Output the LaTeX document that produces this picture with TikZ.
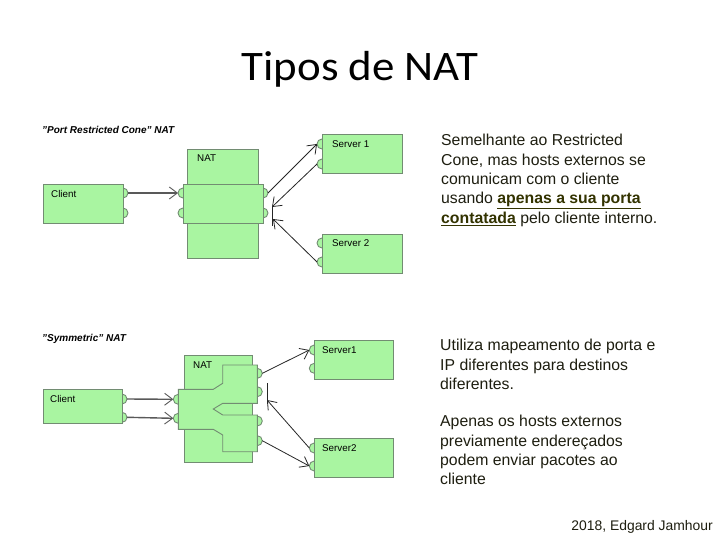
\documentclass[tikz,border=0pt]{standalone}
\usepackage{fontspec}
\setmainfont{Liberation Sans}
\newfontfamily\titlefont{Carlito}
\usetikzlibrary{arrows.meta}
\definecolor{boxfill}{HTML}{A9F5A1}
\definecolor{boxline}{HTML}{728C72}
\definecolor{txt}{HTML}{1E1E10}
\definecolor{olivetxt}{HTML}{333300}
\begin{document}
\begin{tikzpicture}[x=1pt,y=-1pt,
  box/.style={draw=boxline, fill=boxfill, line width=0.9pt, rectangle, inner sep=0pt, anchor=north west},
  lbl/.style={font=\fontsize{9.8}{11}\selectfont, anchor=west, inner sep=0pt},
  hdr/.style={font=\fontsize{10}{12}\selectfont\bfseries\itshape, anchor=base west, inner sep=0pt},
  portst/.style={draw=boxline, fill=boxfill, line width=0.9pt},
  portR/.pic={\filldraw[portst] (0,-5) arc[start angle=-90,end angle=90,radius=5];},
  portL/.pic={\filldraw[portst] (0,5) arc[start angle=90,end angle=270,radius=5];},
  conn/.style={draw=black!85, line width=0.8pt, -{Straight Barb[length=8pt,width=12pt]}},
  thickconn/.style={draw=black!65, line width=1.4pt, -{Straight Barb[length=8pt,width=12pt,line width=0.9pt]}},
  barst/.style={draw=black!85, line width=0.9pt},
  body/.style={font=\fontsize{15.8}{19}\selectfont, text=txt, anchor=base west, inner sep=0pt},
]
\useasboundingbox (0,0) rectangle (720,540);
\fill[white] (0,0) rectangle (720,540);

% title
\node[anchor=base, inner sep=0pt, font=\fontsize{42}{48}\selectfont\titlefont] (title) at (360,81) {\scalebox{1.07}[1]{Tipos de NAT}};

% ================= Port Restricted Cone =================
\node[hdr] (hdr1) at (42,134) {"Port Restricted Cone" NAT};

\coordinate (c1a) at (123,193);
\coordinate (c1b) at (123,213);
\coordinate (n1la) at (183,193);
\coordinate (n1lb) at (183,213);
\coordinate (n1ra) at (263,193);
\coordinate (n1rb) at (263,213);
\coordinate (s1a) at (322,144);
\coordinate (s1b) at (322,164);
\coordinate (s2a) at (322,243);
\coordinate (s2b) at (322,262);

\foreach \p in {c1a,c1b,n1ra,n1rb} \pic at (\p) {portR};
\foreach \p in {n1la,n1lb,s1a,s1b,s2a,s2b} \pic at (\p) {portL};

\node[box, minimum width=80pt, minimum height=39pt] (client1) at (43,184) {};
\node[lbl] (client1lbl) at (51,194) {Client};
\node[box, minimum width=71pt, minimum height=109pt] (nat1) at (187,149) {};
\node[lbl] (nat1lbl) at (197,158) {NAT};
\node[box, minimum width=80pt, minimum height=39pt] (nat1in) at (183,184) {};
\node[box, minimum width=80pt, minimum height=39pt] (srv1) at (322,134) {};
\node[lbl] (srv1lbl) at (332,144) {Server 1};
\node[box, minimum width=80pt, minimum height=39pt] (srv2) at (322,234) {};
\node[lbl] (srv2lbl) at (332,243) {Server 2};

\coordinate (blk1a) at (272,207);
\coordinate (blk1b) at (273,219);
\coordinate (bar1t) at (272,206.5);
\coordinate (bar1b) at (272,226.5);

\draw[thickconn] ([xshift=5pt]c1a) -- ([xshift=-5pt]n1la);
\draw[conn] ([xshift=5pt]n1ra) -- ([xshift=-5pt]s1a);
\draw[conn] ([xshift=-5pt]s1b) -- (blk1a);
\draw[conn] ([xshift=-5pt]s2b) -- (blk1b);
\draw[barst] (bar1t) -- (bar1b);

% ================= Symmetric =================
\node[hdr] (hdr2) at (42,341) {"Symmetric" NAT};

\coordinate (c2a) at (122,399);
\coordinate (c2b) at (122,417.3);
\coordinate (n2la) at (178.3,399.3);
\coordinate (n2lb) at (178.3,418.3);
\coordinate (n2ra) at (257.3,373.3);
\coordinate (n2rb) at (257.3,391.7);
\coordinate (n2rc) at (257.3,421);
\coordinate (n2rd) at (257.3,440.7);
\coordinate (t1a) at (314.3,350);
\coordinate (t1b) at (314.3,368.3);
\coordinate (t2a) at (314.3,448);
\coordinate (t2b) at (314.3,466);

\foreach \p in {c2a,c2b,n2ra,n2rb,n2rc,n2rd} \pic at (\p) {portR};
\foreach \p in {n2la,n2lb,t1a,t1b,t2a,t2b} \pic at (\p) {portL};

\node[box, minimum width=79pt, minimum height=34pt] (client2) at (43,389) {};
\node[lbl] (client2lbl) at (50,399) {Client};
\node[box, minimum width=68pt, minimum height=107pt] (nat2) at (184,355) {};
\node[lbl] (nat2lbl) at (193,365) {NAT};
\draw[portst] (178.3,389.3) -- (213.3,389.3) -- (222.7,383.3) -- (222.7,365) -- (257.3,365)
  -- (257.3,403.3) -- (222.7,403.3) -- (213.3,409) -- (222.7,415) -- (257.3,415)
  -- (257.3,451.7) -- (222.7,451.7) -- (222.7,435) -- (213.3,429.3) -- (178.3,429.3) -- cycle;
\node[box, minimum width=78.5pt, minimum height=38.5pt] (srv3) at (314.3,340) {};
\node[lbl] (srv3lbl) at (322,350) {Server1};
\node[box, minimum width=78.5pt, minimum height=38.5pt] (srv4) at (314.3,438.3) {};
\node[lbl] (srv4lbl) at (322,448) {Server2};

\coordinate (blk2) at (267,400);
\coordinate (bar2t) at (267,383);
\coordinate (bar2b) at (267,403.5);

\draw[thickconn] ([xshift=5pt]c2a) -- ([xshift=-5pt]n2la);
\draw[thickconn] ([xshift=5pt]c2b) -- ([xshift=-5pt]n2lb);
\draw[conn] ([xshift=5pt]n2ra) -- ([xshift=-5pt]t1a);
\draw[conn] ([xshift=-5pt]t2a) -- (blk2);
\draw[conn] ([xshift=5pt]n2rd) -- ([xshift=-5pt]t2b);
\draw[barst] (bar2t) -- (bar2b);

% ================= Text =================
\node[body] (p1a) at (441,146) {Semelhante ao Restricted};
\node[body] (p1b) at (441,165.3) {Cone, mas hosts externos se};
\node[body] (p1c) at (441,184.6) {comunicam com o cliente};
\node[body] (p1d) at (441,204) {usando \textcolor{olivetxt}{\underline{\textbf{apenas a sua porta}}}};
\node[body] (p1e) at (441,223.3) {\textcolor{olivetxt}{\underline{\textbf{contatada}}} pelo cliente interno.};

\node[body] (p2a) at (440,350.7) {Utiliza mapeamento de porta e};
\node[body] (p2b) at (440,370) {IP diferentes para destinos};
\node[body] (p2c) at (440,389.3) {diferentes.};

\node[body] (p3a) at (440,426.7) {Apenas os hosts externos};
\node[body] (p3b) at (440,446) {previamente endereçados};
\node[body] (p3c) at (440,465.3) {podem enviar pacotes ao};
\node[body] (p3d) at (440,484.7) {cliente};

\node[anchor=base east, inner sep=0pt, font=\fontsize{13.9}{16}\selectfont, text=txt] (foot) at (713,530) {2018, Edgard Jamhour};
\end{tikzpicture}
\end{document}
